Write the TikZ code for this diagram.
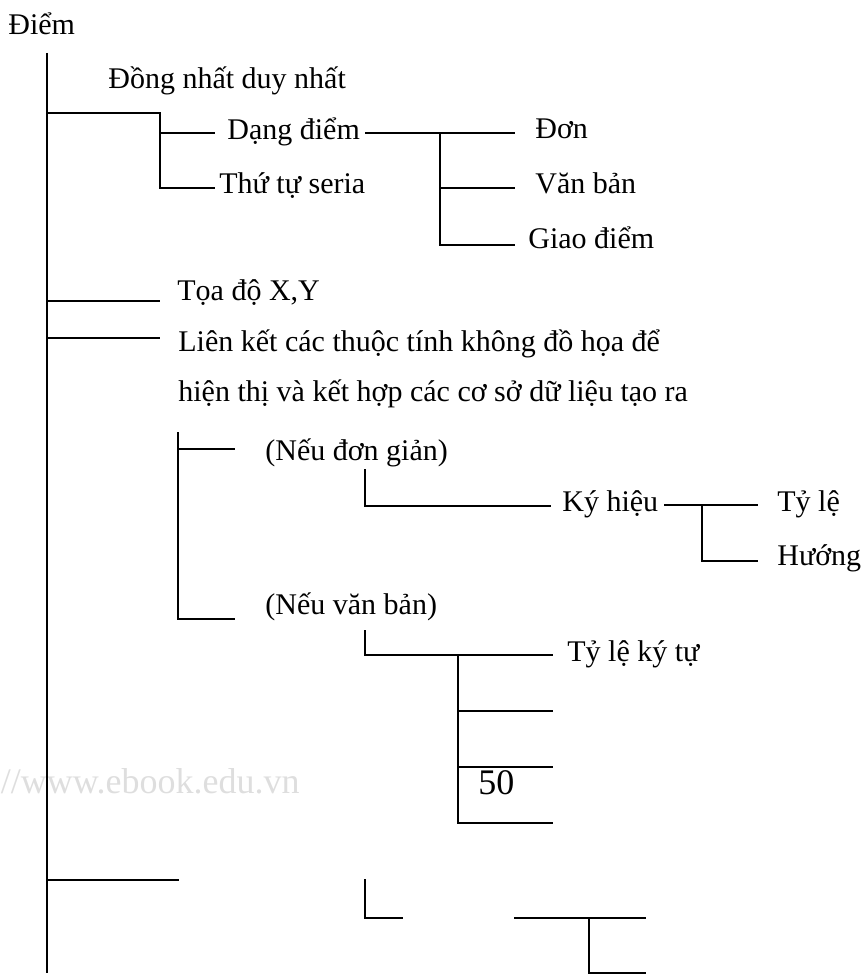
\documentclass[tikz,border=0pt]{standalone}
\usepackage{fontspec}
\setmainfont{Liberation Serif}

\begin{document}
\begin{tikzpicture}[x=0.5pt, y=-0.5pt]
        % Styles
        \tikzstyle{txt} = [anchor=base west, inner sep=0pt, font=\fontsize{15}{18}\selectfont]
        \tikzstyle{big} = [txt, font=\fontsize{18}{21}\selectfont]
        \tikzstyle{branch} = [draw, line width=1pt]

        \useasboundingbox (0,0) rectangle (862,974);

        % Watermark
        \node [big, anchor=base east, text=black!13] (web) at (300,793) {//www.ebook.edu.vn};

        % Nodes
        \node [txt] (diem) at (8,35) {Điểm};
        \node [txt] (dongnhat) at (108,89) {Đồng nhất duy nhất};
        \node [txt] (dangdiem) at (227,140) {Dạng điểm};
        \node [txt] (thutu) at (219,193) {Thứ tự seria};
        \node [txt] (don) at (535,139) {Đơn};
        \node [txt] (vanban) at (535,193) {Văn bản};
        \node [txt] (giaodiem) at (528,248) {Giao điểm};
        \node [txt] (toado) at (177,300) {Tọa độ X,Y};
        \node [txt] (lienket) at (178,351) {Liên kết các thuộc tính không đồ họa để};
        \node [txt] (hienthi) at (178,401) {hiện thị và kết hợp các cơ sở dữ liệu tạo ra};
        \node [txt] (neudon) at (265,460) {(Nếu đơn giản)};
        \node [txt] (neuvb) at (265,614) {(Nếu văn bản)};
        \node [txt] (kyhieu) at (562,511) {Ký hiệu};
        \node [txt] (tyle) at (777,511) {Tỷ lệ};
        \node [txt] (huong) at (777,565) {Hướng};
        \node [txt] (tylekt) at (567,661) {Tỷ lệ ký tự};
        \node [big] (page) at (478,794) {50};

        % Junctions
        \coordinate (root) at (47,53);
        \coordinate (rootend) at (47,973);
        \coordinate (j1) at (47,113);
        \coordinate (j1b) at (160,188);
        \coordinate (j1a) at (160,133);
        \coordinate (dangE) at (215,133);
        \coordinate (thuE) at (215,188);
        \coordinate (dangR) at (365,133);
        \coordinate (donE) at (515,133);
        \coordinate (j2) at (440,133);
        \coordinate (j2m) at (440,188);
        \coordinate (vbE) at (515,188);
        \coordinate (giaoE) at (515,245);
        \coordinate (j3) at (47,301);
        \coordinate (toaE) at (160,301);
        \coordinate (j4) at (47,338);
        \coordinate (lkE) at (160,338);
        \coordinate (j5t) at (178,432);
        \coordinate (j5a) at (178,449);
        \coordinate (neudonE) at (235,449);
        \coordinate (neuvbE) at (235,619);
        \coordinate (j6t) at (365,469);
        \coordinate (kyE) at (551,506);
        \coordinate (kyR) at (664,505);
        \coordinate (j7) at (702,505);
        \coordinate (tyleE) at (758,505);
        \coordinate (huongE) at (758,561);
        \coordinate (j8t) at (365,630);
        \coordinate (tlktE) at (553,655);
        \coordinate (j9) at (458,655);
        \coordinate (e9a) at (553,711);
        \coordinate (e9b) at (553,767);
        \coordinate (e9c) at (553,823);
        \coordinate (j10) at (47,880);
        \coordinate (e10) at (179,880);
        \coordinate (Lt) at (365,879);
        \coordinate (Le) at (403,918);
        \coordinate (Ts) at (514,918);
        \coordinate (Tm) at (589,918);
        \coordinate (Te) at (646,918);
        \coordinate (Tbe) at (646,973);

        % Edges
        \path [branch] (root) -- (rootend);
        \path [branch] (j1) -| (j1b) -- (thuE);
        \path [branch] (j1a) -- (dangE);
        \path [branch] (dangR) -- (donE);
        \path [branch] (j2) |- (giaoE);
        \path [branch] (j2m) -- (vbE);
        \path [branch] (j3) -- (toaE);
        \path [branch] (j4) -- (lkE);
        \path [branch] (j5t) |- (neuvbE);
        \path [branch] (j5a) -- (neudonE);
        \path [branch] (j6t) |- (kyE);
        \path [branch] (kyR) -- (tyleE);
        \path [branch] (j7) |- (huongE);
        \path [branch] (j8t) |- (tlktE);
        \path [branch] (j9) |- (e9c);
        \path [branch] (j9 |- e9a) -- (e9a);
        \path [branch] (j9 |- e9b) -- (e9b);
        \path [branch] (j10) -- (e10);
        \path [branch] (Lt) |- (Le);
        \path [branch] (Ts) -- (Te);
        \path [branch] (Tm) |- (Tbe);
\end{tikzpicture}
\end{document}
